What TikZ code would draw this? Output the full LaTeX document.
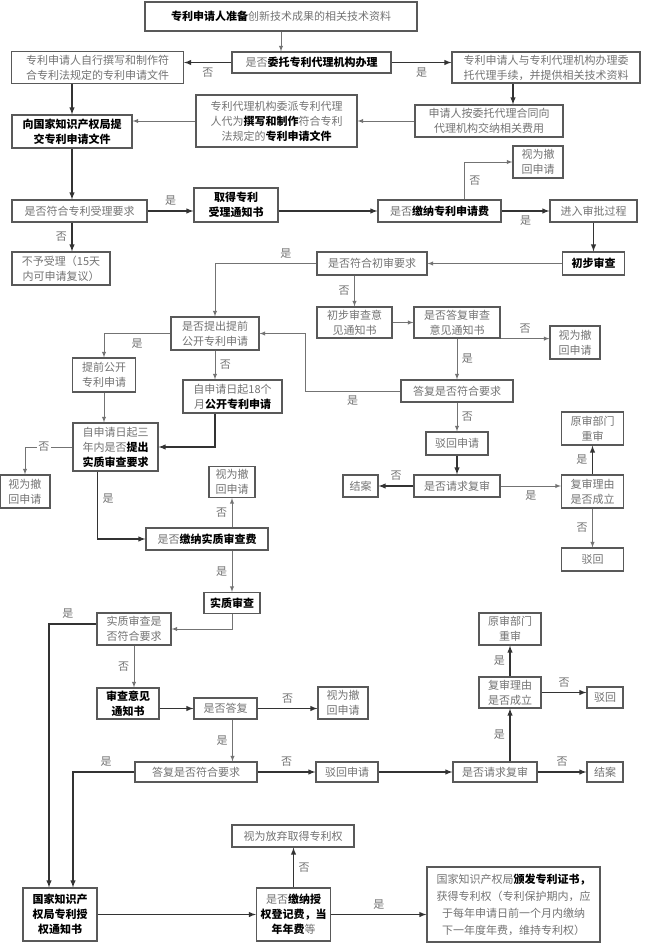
\documentclass[tikz,border=0pt]{standalone}
\usepackage{fontspec}
\newfontfamily\cjk{Noto Sans CJK SC}
\usepackage{tikz}
\usetikzlibrary{arrows,positioning}
\tikzstyle{box}=[draw=black!65, line width=1.2, fill=white, align=center, inner sep=2pt, text=black!55, font=\cjk\fontsize{11}{15}\selectfont]
\tikzstyle{lbl}=[text=black!55, inner sep=1.5pt, font=\cjk\fontsize{11}{13}\selectfont]
\tikzstyle{l1}=[line width=1.4, draw=black!80, -latex]
\tikzstyle{l2}=[line width=0.9, draw=black!55, -latex]
\newcommand{\hl}[1]{{\bfseries\color{black}#1}}

\begin{document}
\begin{tikzpicture}[x=1pt, y=-1pt]
    \useasboundingbox (0,0) rectangle (650,944);

    % filing
    \node[box, minimum width=272, minimum height=29] at (281,16.5) (prep) {\hl{专利申请人准备}创新技术成果的相关技术资料};
    \node[box, minimum width=159, minimum height=21] at (311.5,62.5) (entrust) {是否\hl{委托专利代理机构办理}};
    \node[box, minimum width=172, minimum height=32] at (97.5,67.5) (selfwrite) {专利申请人自行撰写和制作符\\合专利法规定的专利申请文件};
    \node[box, minimum width=188, minimum height=31] at (546,67.5) (agency) {专利申请人与专利代理机构办理委\\托代理手续，并提供相关技术资料};
    \node[box, minimum width=148, minimum height=32] at (489,121) (payagent) {申请人按委托代理合同向\\代理机构交纳相关费用};
    \node[box, minimum width=161, minimum height=52] at (276.5,121) (agentwrite) {专利代理机构委派专利代理\\人代为\hl{撰写和制作}符合专利\\法规定的\hl{专利申请文件}};
    \node[box, minimum width=120, minimum height=33] at (72,131.5) (submit) {\hl{向国家知识产权局提}\\\hl{交专利申请文件}};
    \node[box, minimum width=135, minimum height=22] at (79.5,211) (accept) {是否符合专利受理要求};
    \node[box, minimum width=84, minimum height=34] at (236,205) (notice) {\hl{取得专利}\\\hl{受理通知书}};
    \node[box, minimum width=98, minimum height=33] at (61,268.5) (reject) {不予受理（15天\\内可申请复议）};
    \node[box, minimum width=123, minimum height=22] at (439.5,211) (appfee) {是否\hl{缴纳专利申请费}};
    \node[box, minimum width=50, minimum height=32] at (538,162) (wd1) {视为撤\\回申请};
    \node[box, minimum width=87, minimum height=22] at (593.5,211) (approval) {进入审批过程};

    % preliminary examination
    \node[box, minimum width=62, minimum height=23] at (593.5,263.5) (prelim) {\hl{初步审查}};
    \node[box, minimum width=110, minimum height=23] at (372,263.5) (prelimok) {是否符合初审要求};
    \node[box, minimum width=75, minimum height=31] at (354.5,322.5) (prelimnote) {初步审查意\\见通知书};
    \node[box, minimum width=86, minimum height=31] at (457,322.5) (reply1) {是否答复审查\\意见通知书};
    \node[box, minimum width=50, minimum height=33] at (575,342.5) (wd2) {视为撤\\回申请};
    \node[box, minimum width=112, minimum height=22] at (457,391) (reply1ok) {答复是否符合要求};
    \node[box, minimum width=62, minimum height=23] at (457,443.5) (refuse1) {驳回申请};
    \node[box, minimum width=86, minimum height=22] at (457,486) (review1) {是否请求复审};
    \node[box, minimum width=35, minimum height=22] at (360.5,486) (close1) {结案};
    \node[box, minimum width=62, minimum height=33] at (592.5,491.5) (reason1) {复审理由\\是否成立};
    \node[box, minimum width=62, minimum height=33] at (592.5,428.5) (reexam1) {原审部门\\重审};
    \node[box, minimum width=62, minimum height=23] at (592.5,559.5) (dismiss1) {驳回};

    % publication
    \node[box, minimum width=88, minimum height=33] at (215,333.5) (early) {是否提出提前\\公开专利申请};
    \node[box, minimum width=63, minimum height=34] at (104,375) (earlypub) {提前公开\\专利申请};
    \node[box, minimum width=99, minimum height=33] at (232.5,396.5) (pub18) {自申请日起18个\\月\hl{公开专利申请}};
    \node[box, minimum width=85, minimum height=48] at (115.5,447) (substreq) {自申请日起三\\年内是否\hl{提出}\\\hl{实质审查要求}};
    \node[box, minimum width=50, minimum height=33] at (25,491.5) (wd3) {视为撤\\回申请};
    \node[box, minimum width=46, minimum height=31] at (232,482) (wd4) {视为撤\\回申请};
    \node[box, minimum width=122, minimum height=22] at (207,539) (substfee) {是否\hl{缴纳实质审查费}};

    % substantive examination
    \node[box, minimum width=56, minimum height=21] at (232,603) (subst) {\hl{实质审查}};
    \node[box, minimum width=74, minimum height=32] at (134,629) (substok) {实质审查是\\否符合要求};
    \node[box, minimum width=62, minimum height=31] at (128,703.5) (opinion) {\hl{审查意见}\\\hl{通知书}};
    \node[box, minimum width=63, minimum height=21] at (225.5,708.5) (reply2) {是否答复};
    \node[box, minimum width=50, minimum height=32] at (343,703) (wd5) {视为撤\\回申请};
    \node[box, minimum width=122, minimum height=20] at (196,772) (reply2ok) {答复是否符合要求};
    \node[box, minimum width=62, minimum height=20] at (347,772) (refuse2) {驳回申请};
    \node[box, minimum width=84, minimum height=20] at (495,772) (review2) {是否请求复审};
    \node[box, minimum width=36, minimum height=20] at (605,772) (close2) {结案};
    \node[box, minimum width=62, minimum height=31] at (510,692.5) (reason2) {复审理由\\是否成立};
    \node[box, minimum width=62, minimum height=32] at (510,629) (reexam2) {原审部门\\重审};
    \node[box, minimum width=36, minimum height=21] at (605,697.5) (dismiss2) {驳回};

    % grant
    \node[box, minimum width=122, minimum height=22] at (293,836) (giveup) {视为放弃取得专利权};
    \node[box, minimum width=74, minimum height=53] at (60,914.5) (grant) {\hl{国家知识产}\\\hl{权局专利授}\\\hl{权通知书}};
    \node[box, minimum width=74, minimum height=53] at (293.5,914.5) (regfee) {是否\hl{缴纳授}\\\hl{权登记费，当}\\\hl{年年费}等};
    \node[box, minimum width=173, minimum height=75, font=\cjk\fontsize{11}{17}\selectfont] at (513.5,904.5) (cert) {国家知识产权局\hl{颁发专利证书，}\\获得专利权（专利保护期内，应\\于每年申请日前一个月内缴纳\\下一年度年费，维持专利权）};

    \coordinate (turn1) at (305,391);

    \draw[l2] (prep.south) -- (prep.south |- entrust.north);
    \draw[l1] (entrust.west) -- node[lbl, below=3pt] {否} (entrust.west -| selfwrite.east);
    \draw[l1] (entrust.east) -- node[lbl, below=3pt] {是} (entrust.east -| agency.west);
    \draw[l1] ([xshift=24]payagent.north |- agency.south) -- ([xshift=24]payagent.north);
    \draw[l2] (payagent) -- (agentwrite);
    \draw[l2] (agentwrite.west) -- (agentwrite.west -| submit.east);
    \draw[l1] (submit.north |- selfwrite.south) -- (submit.north);
    \draw[l1] (submit.south) -- (submit.south |- accept.north);
    \draw[l1] (accept.east) -- node[lbl, above=3pt] {是} (accept.east -| notice.west);
    \draw[l1] (submit.south |- accept.south) -- node[lbl, left=3pt] {否} (submit.south |- reject.north);
    \draw[l1] (notice.east |- appfee.west) -- (appfee.west);
    \draw[l2] ([xshift=25]appfee.north) |- node[lbl, pos=0.25, right=3pt] {否} (wd1.west);
    \draw[l1] (appfee) -- node[lbl, below=3pt] {是} (approval);
    \draw[l1] (approval) -- (prelim);

    \draw[l2] (prelim) -- (prelimok);
    \draw[l2] (prelimok.west) -| node[lbl, pos=0.15, above=3pt] {是} (early.north);
    \draw[l2] (prelimnote.north |- prelimok.south) -- node[lbl, left=3pt] {否} (prelimnote.north);
    \draw[l2] (prelimnote) -- (reply1);
    \draw[l2] (reply1.south east) -- node[lbl, above=3pt] {否} (reply1.south east -| wd2.west);
    \draw[l2] (reply1) -- node[lbl, right=3pt] {是} (reply1ok);
    \draw[l2] (reply1ok.west) -- node[lbl, below=3pt] {是} (turn1) |- (early.east);
    \draw[l2] (reply1ok) -- node[lbl, right=3pt] {否} (refuse1);
    \draw[l1] (refuse1) -- (review1);
    \draw[l1] (review1) -- node[lbl, above=3pt] {否} (close1);
    \draw[l2] (review1.east) -- node[lbl, below=3pt] {是} (review1.east -| reason1.west);
    \draw[l1] (reason1) -- node[lbl, left=3pt] {是} (reexam1);
    \draw[l2] (reason1) -- node[lbl, left=3pt] {否} (dismiss1);

    \draw[l2] (early.west) -| node[lbl, pos=0.25, below=3pt] {是} (earlypub.north);
    \draw[l2] (early.south) -- node[lbl, right=3pt] {否} (early.south |- pub18.north);
    \draw[l2] (earlypub.south) -- (earlypub.south |- substreq.north);
    \draw[l1] (early.south |- pub18.south) |- (substreq.east);
    \draw[l2] (substreq.west) -| node[lbl, pos=0.3, fill=white] {否} (wd3.north);
    \draw[l1] ([xshift=-18]substreq.south) |- node[lbl, pos=0.2, right=3pt] {是} (substfee.west);
    \draw[l2] (wd4.south |- substfee.north) -- node[lbl, left=3pt] {否} (wd4.south);
    \draw[l2] (subst.north |- substfee.south) -- node[lbl, left=3pt] {是} (subst.north);

    \draw[l2] (subst.south) |- (substok.east);
    \draw[l1] ([yshift=5]substok.west) -| node[lbl, pos=0.3, above=3pt] {是} ([xshift=-11]grant.north);
    \draw[l2] (substok.south) -- node[lbl, left=3pt] {否} (substok.south |- opinion.north);
    \draw[l1] (opinion.east |- reply2.west) -- (reply2.west);
    \draw[l1] (reply2.east) -- node[lbl, above=3pt] {否} (reply2.east -| wd5.west);
    \draw[l2] ([xshift=7]reply2.south) -- node[lbl, left=3pt] {是} ([xshift=7]reply2.south |- reply2ok.north);
    \draw[l1] (reply2ok.west) -| node[lbl, pos=0.23, above=3pt] {是} ([xshift=13]grant.north);
    \draw[l1] (reply2ok) -- node[lbl, above=3pt] {否} (refuse2);
    \draw[l1] (refuse2) -- (review2);
    \draw[l1] (review2) -- node[lbl, above=3pt] {否} (close2);
    \draw[l1] (reason2.south |- review2.north) -- node[lbl, left=3pt] {是} (reason2.south);
    \draw[l1] (reason2) -- node[lbl, left=3pt] {是} (reexam2);
    \draw[l1] (reason2.east) -- node[lbl, above=3pt] {否} (reason2.east -| dismiss2.west);

    \draw[l1] (grant) -- (regfee);
    \draw[l1] (regfee.north) -- node[lbl, right=3pt] {否} (regfee.north |- giveup.south);
    \draw[l1] (regfee.east) -- node[lbl, above=3pt] {是} (regfee.east -| cert.west);
\end{tikzpicture}
\end{document}
